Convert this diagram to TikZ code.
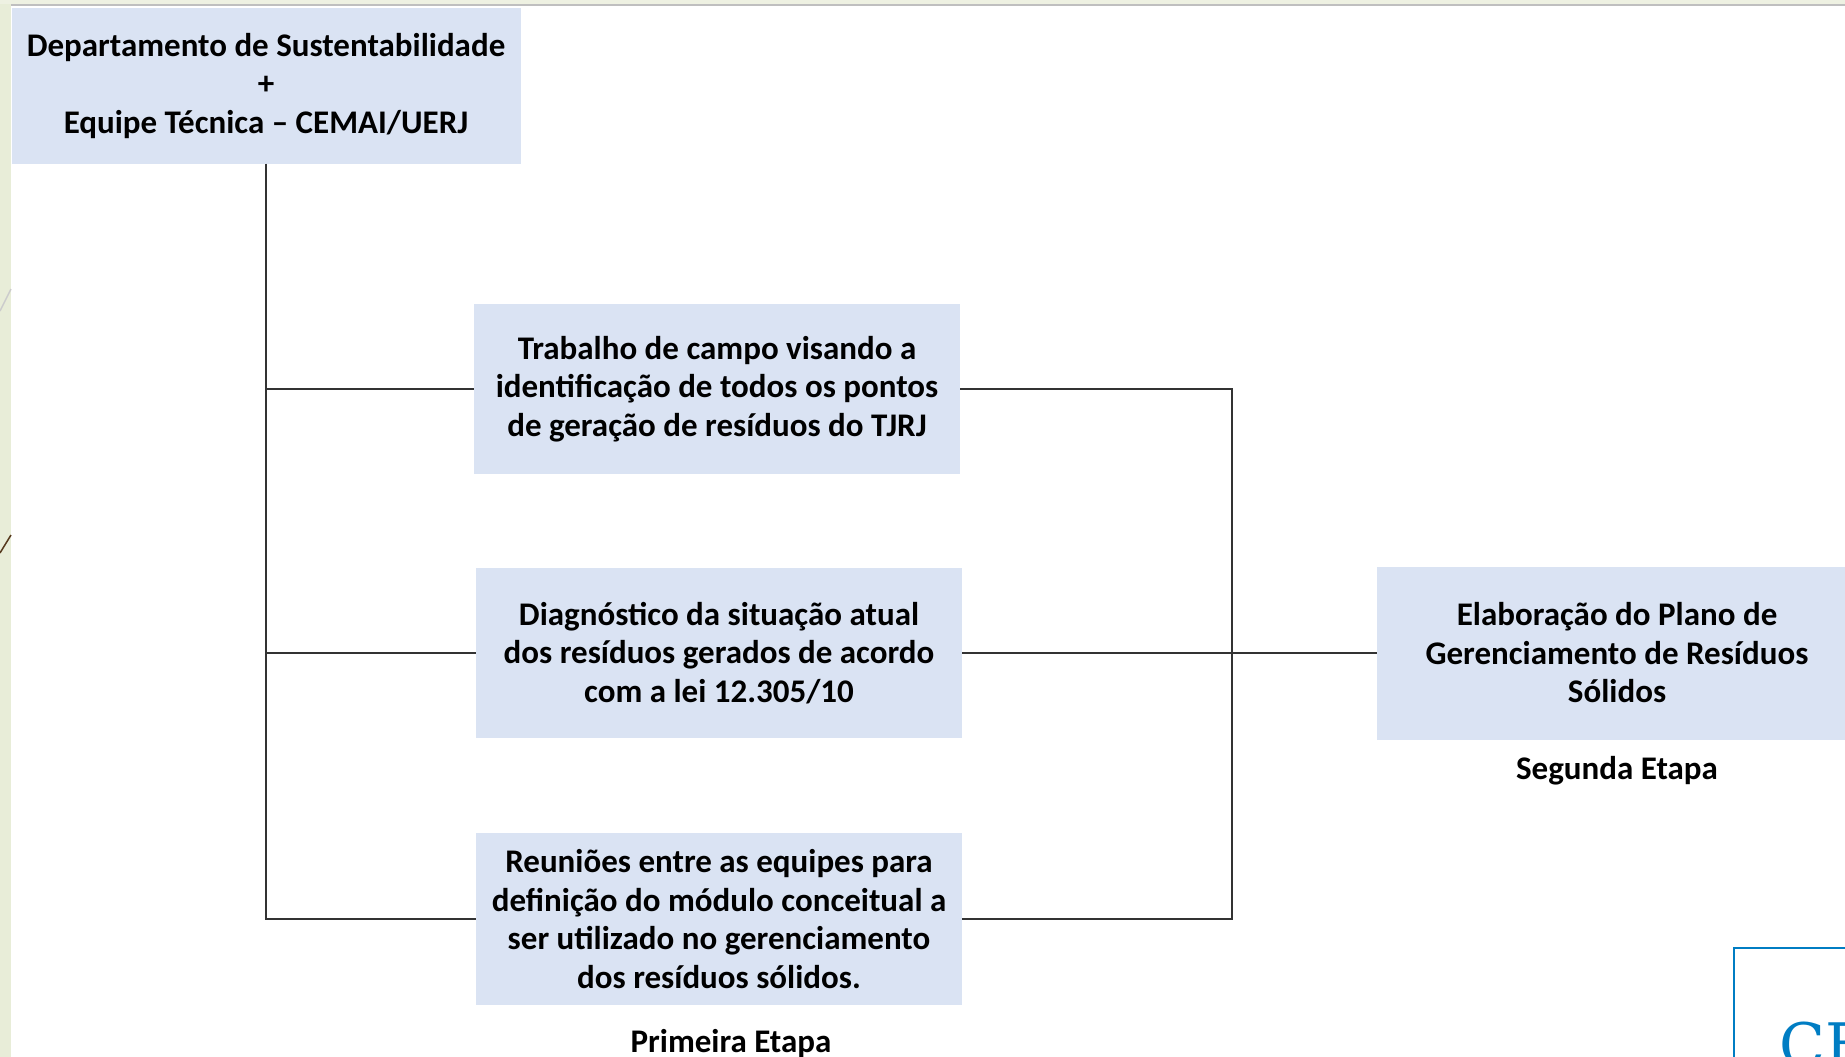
\documentclass[tikz,border=0pt]{standalone}
\usepackage{fontspec}
\setmainfont{Carlito}
\newfontfamily\logofont{DejaVu Serif}
\usepackage{tikz}
\usetikzlibrary{positioning}

\definecolor{caixaazul}{RGB}{218,227,243}
\definecolor{faixaverde}{RGB}{232,237,216}
\definecolor{topoclaro}{RGB}{238,241,226}
\definecolor{logoazul}{RGB}{0,125,195}

\tikzset{
  caixa/.style={fill=caixaazul, align=center, inner sep=0pt,
    font=\bfseries\fontsize{33}{38.5}\selectfont,
    minimum width=486pt, minimum height=170pt},
  rotulo/.style={font=\bfseries\fontsize{33}{38.5}\selectfont, inner sep=0pt},
  linha/.style={draw=black!80, line width=1.6pt}
}

\begin{document}
\begin{tikzpicture}[x=1pt,y=-1pt]
    \clip (0,0) rectangle (1845,1057);
    \fill[white] (0,0) rectangle (1845,1057);
    % faixas do slide
    \fill[faixaverde] (0,0) rectangle (11,1057);
    \fill[topoclaro] (0,0) rectangle (1845,4);
    \draw[black!25, line width=2pt] (11,5) -- (1845,5);
    \draw[black!20, line width=1.5pt] (0,311) -- (11,289);
    \draw[black!55!brown, line width=1.5pt] (0,553) -- (11,535);

    \node[caixa, minimum width=509pt, minimum height=155pt] (dept) at (266,86)
        {Departamento de Sustentabilidade\\+\\Equipe Técnica – CEMAI/UERJ};

    \node[caixa] (campo) at (717,389)
        {Trabalho de campo visando a\\identificação de todos os pontos\\de geração de resíduos do TJRJ};
    \node[caixa] (diag) at (719,653)
        {Diagnóstico da situação atual\\dos resíduos gerados de acordo\\com a lei 12.305/10};
    \node[caixa, minimum height=172pt] (reun) at (719,919)
        {Reuniões entre as equipes para\\definição do módulo conceitual a\\ser utilizado no gerenciamento\\dos resíduos sólidos.};
    \node[rotulo] (etapa1) at (731,1044) {Primeira Etapa};

    \node[caixa, minimum width=480pt, minimum height=173pt] (plano) at (1617,653)
        {Elaboração do Plano de\\Gerenciamento de Resíduos\\Sólidos};
    \node[rotulo] (etapa2) at (1617,771) {Segunda Etapa};

    % ligacoes
    \coordinate (junta) at (1232,653);
    \draw[linha] (dept.south) |- (reun.west);
    \draw[linha] (dept.south |- campo.west) -- (campo.west);
    \draw[linha] (dept.south |- diag.west) -- (diag.west);
    \draw[linha] (campo.east) -| (junta);
    \draw[linha] (reun.east) -| (junta);
    \draw[linha] (diag.east) -- (plano.west);

    % logo no canto
    \draw[logoazul, line width=2.5pt] (1734,948) rectangle (1900,1120);
    \node[logoazul, font=\logofont\fontsize{60}{62}\selectfont, anchor=base west, inner sep=0pt]
        (logo) at (1779,1066) {CE};
\end{tikzpicture}
\end{document}
